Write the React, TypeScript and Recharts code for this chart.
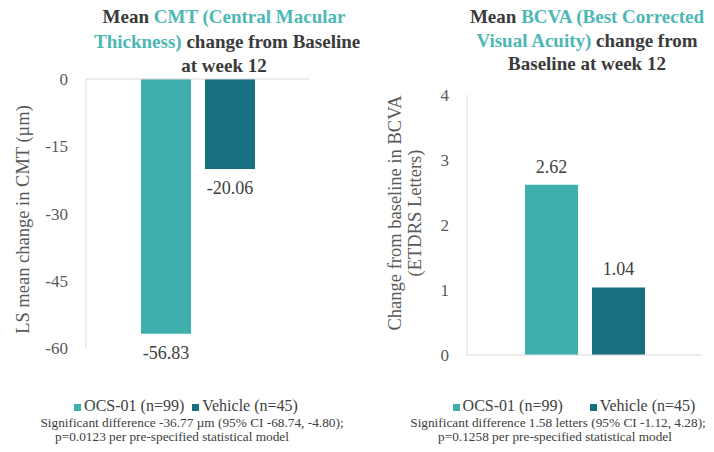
import { BarChart, Bar, XAxis, YAxis, ReferenceLine, LabelList } from 'recharts';

const FONT = "'Liberation Serif', 'Times New Roman', serif";
const TEAL = '#3fafae';
const DARK = '#177080';
const TITLE_TEAL = '#4db7b5';
const GRID = '#d9d9d9';

const seriesNames = ['OCS-01 (n=99)', 'Vehicle (n=45)'];

// CMT chart
const cmtOcs = [-56.83];
const cmtVehicle = [-20.06];
const cmtTicks = [0, -15, -30, -45, -60];

// BCVA chart
const bcvaOcs = [2.62];
const bcvaVehicle = [1.04];
const bcvaTicks = [0, 1, 2, 3, 4];

const category = ['Week 12'];

const cmtData = category.map((c, i) => ({ name: c, ocs: cmtOcs[i], vehicle: cmtVehicle[i] }));
const bcvaData = category.map((c, i) => ({ name: c, ocs: bcvaOcs[i], vehicle: bcvaVehicle[i] }));

function ValueLabel(props: any) {
  const { x, y, width, height, value } = props;
  const v = Number(value);
  const top = Math.min(Number(y), Number(y) + Number(height));
  const bottom = Math.max(Number(y), Number(y) + Number(height));
  const ty = v < 0 ? bottom + 19 : top - 18;
  return (
    <text
      x={Number(x) + Number(width) / 2}
      y={ty}
      textAnchor="middle"
      dominantBaseline="central"
      fill="#404040"
      fontSize={18}
      fontFamily={FONT}
    >
      {v.toFixed(2)}
    </text>
  );
}

function AxisTitle(props: any) {
  const { viewBox, lines, xs, shift = 0 } = props;
  const cy = viewBox.y + viewBox.height / 2 + shift;
  return (
    <g>
      {lines.map((l: string, i: number) => (
        <text
          key={i}
          x={xs[i]}
          y={cy}
          transform={`rotate(-90 ${xs[i]} ${cy})`}
          textAnchor="middle"
          dominantBaseline="central"
          fill="#595959"
          fontSize={18.5}
          fontFamily={FONT}
        >
          {l}
        </text>
      ))}
    </g>
  );
}

function LegendRow({ gap }: { gap: number }) {
  const colors = [TEAL, DARK];
  return (
    <div style={{ display: 'flex', justifyContent: 'center', gap, fontSize: 16, color: '#404040', lineHeight: '16px' }}>
      {seriesNames.map((n, i) => (
        <span key={n} style={{ display: 'flex', alignItems: 'center' }}>
          <span style={{ width: 7, height: 7, background: colors[i], display: 'inline-block', marginRight: 3, marginTop: 2 }} />
          {n}
        </span>
      ))}
    </div>
  );
}

const tickStyle = { fill: '#595959', fontSize: 17, fontFamily: FONT };
const noteStyle = { position: 'absolute' as const, textAlign: 'center' as const, fontSize: 13.3, lineHeight: '14px', color: '#404040', whiteSpace: 'nowrap' as const };

export default function App() {
  return (
    <div style={{ position: 'absolute', left: 0, top: 0, width: 714, height: 452, background: '#fff', fontFamily: FONT, overflow: 'hidden' }}>
      {/* titles */}
      <div style={{ position: 'absolute', left: 94, width: 260, top: 5, textAlign: 'center', fontWeight: 'bold', fontSize: 19, lineHeight: '24.5px', color: '#3a3a3a', whiteSpace: 'nowrap' }}>
        Mean <span style={{ color: TITLE_TEAL }}>CMT (Central Macular</span>
        <br />
        <span style={{ color: TITLE_TEAL }}>Thickness)</span> change from Baseline
        <br />
        at week 12
      </div>
      <div style={{ position: 'absolute', left: 457, width: 260, top: 5, textAlign: 'center', fontWeight: 'bold', fontSize: 19, lineHeight: '23.5px', color: '#3a3a3a', whiteSpace: 'nowrap' }}>
        Mean <span style={{ color: TITLE_TEAL }}>BCVA (Best Corrected</span>
        <br />
        <span style={{ color: TITLE_TEAL }}>Visual Acuity)</span> change from
        <br />
        Baseline at week 12
      </div>

      {/* left chart */}
      <div style={{ position: 'absolute', left: 0, top: 0 }}>
        <BarChart width={360} height={380} data={cmtData} margin={{ top: 79, right: 51, bottom: 32, left: 0 }} barGap={14}>
          <XAxis dataKey="name" hide height={0} />
          <YAxis
            width={86}
            domain={[-60, 0]}
            ticks={cmtTicks}
            tick={tickStyle}
            tickLine={false}
            tickMargin={12}
            axisLine={{ stroke: GRID }}
            label={<AxisTitle lines={['LS mean change in CMT (µm)']} xs={[23]} shift={6} />}
          />
          <ReferenceLine y={0} stroke={GRID} />
          <Bar dataKey="ocs" name={seriesNames[0]} fill={TEAL} barSize={50} isAnimationActive={false}>
            <LabelList dataKey="ocs" content={<ValueLabel />} />
          </Bar>
          <Bar dataKey="vehicle" name={seriesNames[1]} fill={DARK} barSize={50} isAnimationActive={false}>
            <LabelList dataKey="vehicle" content={<ValueLabel />} />
          </Bar>
        </BarChart>
      </div>

      {/* right chart */}
      <div style={{ position: 'absolute', left: 360, top: 0 }}>
        <BarChart width={354} height={380} data={bcvaData} margin={{ top: 95, right: 12, bottom: 25, left: 0 }} barGap={14}>
          <XAxis dataKey="name" hide height={0} />
          <YAxis
            width={107}
            domain={[0, 4]}
            ticks={bcvaTicks}
            tick={tickStyle}
            tickLine={false}
            tickMargin={12}
            axisLine={{ stroke: GRID }}
            label={<AxisTitle lines={['Change from baseline in BCVA', '(ETDRS Letters)']} xs={[35, 55]} shift={-12} />}
          />
          <ReferenceLine y={0} stroke={GRID} />
          <Bar dataKey="ocs" name={seriesNames[0]} fill={TEAL} barSize={53} isAnimationActive={false}>
            <LabelList dataKey="ocs" content={<ValueLabel />} />
          </Bar>
          <Bar dataKey="vehicle" name={seriesNames[1]} fill={DARK} barSize={53} isAnimationActive={false}>
            <LabelList dataKey="vehicle" content={<ValueLabel />} />
          </Bar>
        </BarChart>
      </div>

      {/* legends */}
      <div style={{ position: 'absolute', left: 36, width: 300, top: 398 }}>
        <LegendRow gap={8} />
      </div>
      <div style={{ position: 'absolute', left: 424, width: 300, top: 398 }}>
        <LegendRow gap={27} />
      </div>

      {/* footnotes */}
      <div style={{ ...noteStyle, left: 0, width: 384, top: 416 }}>
        Significant difference -36.77 µm (95% CI -68.74, -4.80);
      </div>
      <div style={{ ...noteStyle, left: 0, width: 344, top: 430 }}>
        p=0.0123 per pre-specified statistical model
      </div>
      <div style={{ ...noteStyle, left: 408, width: 300, top: 416 }}>
        Significant difference 1.58 letters (95% CI -1.12, 4.28);
      </div>
      <div style={{ ...noteStyle, left: 405, width: 300, top: 430 }}>
        p=0.1258 per pre-specified statistical model
      </div>
    </div>
  );
}
